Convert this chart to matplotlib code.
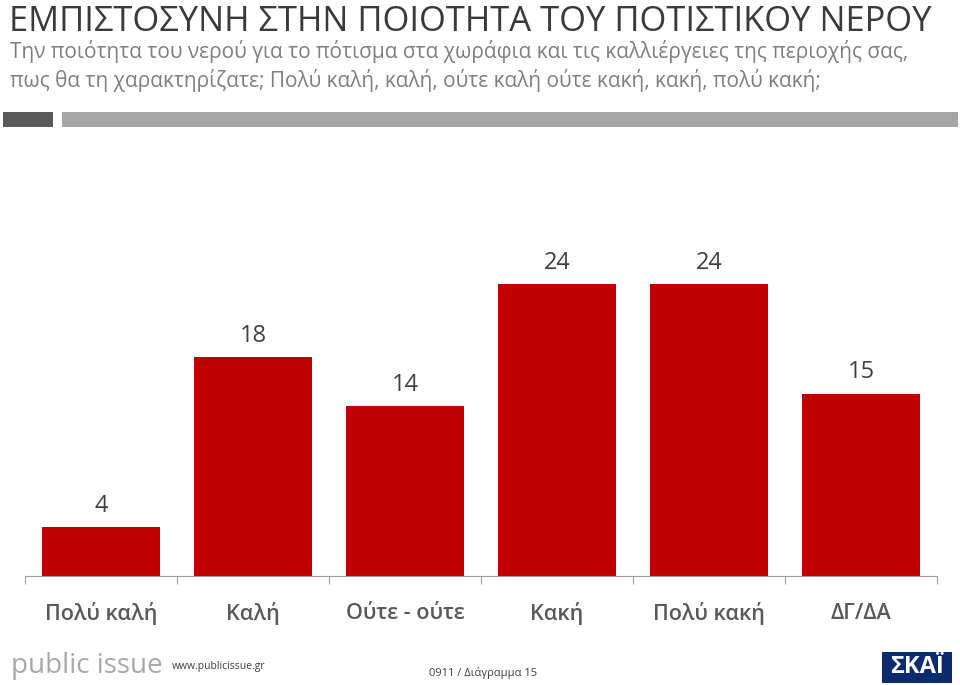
import matplotlib.pyplot as plt
from matplotlib.patches import Rectangle

categories = ['Πολύ καλή', 'Καλή', 'Ούτε - ούτε', 'Κακή', 'Πολύ κακή', 'ΔΓ/ΔΑ']
values = [4, 18, 14, 24, 24, 15]

title = 'ΕΜΠΙΣΤΟΣΥΝΗ ΣΤΗΝ ΠΟΙΟΤΗΤΑ ΤΟΥ ΠΟΤΙΣΤΙΚΟΥ ΝΕΡΟΥ'
subtitle = ('Την ποιότητα του νερού για το πότισμα στα χωράφια και τις καλλιέργειες της περιοχής σας,\n'
            'πως θα τη χαρακτηρίζατε; Πολύ καλή, καλή, ούτε καλή ούτε κακή, κακή, πολύ κακή;')

plt.rcParams['font.family'] = ['Open Sans', 'DejaVu Sans']

fig = plt.figure(figsize=(9.6, 6.85), dpi=100)
W, H = 960, 685

def fx(px):
    return px / W

def fy(py):
    return 1 - py / H

# title and question
fig.text(fx(9), fy(31), title, fontsize=24.8, color='#3a3a3a', va='baseline', ha='left')
fig.text(fx(10), fy(66), subtitle, fontsize=15, color='#7f7f7f',
         va='center', ha='left', linespacing=1.3)

# decorative bars under the header
fig.patches.append(Rectangle((fx(3), fy(127)), fx(50), 15 / H, transform=fig.transFigure,
                             facecolor='#595959', edgecolor='none'))
fig.patches.append(Rectangle((fx(62), fy(127)), fx(896), 15 / H, transform=fig.transFigure,
                             facecolor='#a6a6a6', edgecolor='none'))

# chart
ax = fig.add_axes([fx(25), fy(576), fx(912), (576 - 211) / H])
x = list(range(len(categories)))
ax.bar(x, values, width=0.77, color='#c00000')
ax.set_xlim(-0.5, len(categories) - 0.5)
ax.set_ylim(0, 30)
for xi, v in zip(x, values):
    ax.text(xi, v + 0.75, str(v), ha='center', va='bottom', fontsize=17, color='#404040')

for s in ['top', 'right', 'left']:
    ax.spines[s].set_visible(False)
ax.spines['bottom'].set_color('#a0a0a0')
ax.set_yticks([])
ax.set_xticks([i - 0.5 for i in range(len(categories) + 1)])
ax.set_xticklabels([])
ax.tick_params(axis='x', direction='out', length=6, color='#a0a0a0')
for xi, c in zip(x, categories):
    ax.text(xi, -0.103, c, transform=ax.get_xaxis_transform(), ha='center', va='center',
            fontsize=15.5, color='#595959', fontweight='semibold')

# footer
fig.text(fx(11), fy(666), 'public issue', fontsize=20, color='#a8a8a8', va='center', ha='left')
fig.text(fx(172), fy(666), 'www.publicissue.gr', fontsize=7.5, color='#404040', va='center', ha='left')
fig.text(fx(483), fy(673), '0911 / Διάγραμμα 15', fontsize=8, color='#404040', va='center', ha='center')
fig.patches.append(Rectangle((fx(882), fy(683)), fx(70), 31 / H, transform=fig.transFigure,
                             facecolor='#0c2a6e', edgecolor='none'))
fig.text(fx(917), fy(667), 'ΣΚΑΪ', fontsize=17, color='white', fontweight='bold',
         va='center', ha='center')

fig.savefig('out.png', dpi=100)
